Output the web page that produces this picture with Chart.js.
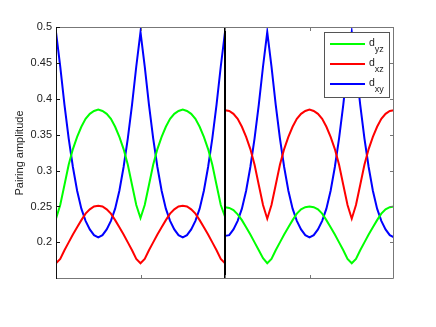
<!DOCTYPE html>
<html>
<head>
<meta charset="utf-8">
<script src="https://cdn.jsdelivr.net/npm/chart.js@4"></script>
<style>
  body { margin: 0; background: #fff; }
  #wrap { width: 436px; height: 327px; }
</style>
</head>
<body>
<div id="wrap"><canvas id="pairChart"></canvas></div>
<script>
// Data
const xLeft = [0, 0.05, 0.1, 0.15, 0.2, 0.25, 0.3, 0.35, 0.4, 0.45, 0.5, 0.55, 0.6, 0.65, 0.7, 0.75, 0.8, 0.85, 0.9, 0.95,
  1, 1.05, 1.1, 1.15, 1.2, 1.25, 1.3, 1.35, 1.4, 1.45, 1.5, 1.55, 1.6, 1.65, 1.7, 1.75, 1.8, 1.85, 1.9, 1.95, 2];
const xRight = [2, 2.05, 2.1, 2.15, 2.2, 2.25, 2.3, 2.35, 2.4, 2.45, 2.5, 2.55, 2.6, 2.65, 2.7, 2.75, 2.8, 2.85, 2.9, 2.95,
  3, 3.05, 3.1, 3.15, 3.2, 3.25, 3.3, 3.35, 3.4, 3.45, 3.5, 3.55, 3.6, 3.65, 3.7, 3.75, 3.8, 3.85, 3.9, 3.95, 4];

const dyzLeft = [0.233, 0.252, 0.280, 0.308, 0.330, 0.347, 0.361, 0.372, 0.379, 0.383, 0.385, 0.383, 0.379, 0.372, 0.361, 0.347, 0.330, 0.308, 0.280, 0.252,
  0.234, 0.252, 0.280, 0.308, 0.330, 0.347, 0.361, 0.372, 0.379, 0.383, 0.385, 0.383, 0.379, 0.372, 0.361, 0.347, 0.330, 0.308, 0.280, 0.252, 0.236];
const dyzRight = [0.249, 0.248, 0.245, 0.239, 0.231, 0.221, 0.211, 0.200, 0.189, 0.178, 0.171, 0.177, 0.189, 0.200, 0.211, 0.221, 0.231, 0.240, 0.246, 0.249,
  0.250, 0.249, 0.246, 0.240, 0.231, 0.221, 0.211, 0.200, 0.189, 0.177, 0.171, 0.177, 0.189, 0.200, 0.211, 0.221, 0.231, 0.240, 0.246, 0.249, 0.250];

const dxzLeft = [0.171, 0.177, 0.189, 0.200, 0.211, 0.221, 0.231, 0.240, 0.246, 0.250, 0.251, 0.250, 0.246, 0.240, 0.231, 0.221, 0.211, 0.200, 0.189, 0.177,
  0.171, 0.177, 0.189, 0.200, 0.211, 0.221, 0.231, 0.240, 0.246, 0.250, 0.251, 0.250, 0.246, 0.240, 0.231, 0.221, 0.211, 0.200, 0.189, 0.177, 0.171];
const dxzRight = [0.384, 0.383, 0.379, 0.372, 0.361, 0.347, 0.330, 0.308, 0.280, 0.252, 0.233, 0.252, 0.280, 0.308, 0.330, 0.347, 0.361, 0.372, 0.379, 0.383,
  0.385, 0.383, 0.379, 0.372, 0.361, 0.347, 0.330, 0.308, 0.280, 0.252, 0.233, 0.252, 0.280, 0.308, 0.330, 0.347, 0.361, 0.372, 0.379, 0.383, 0.384];

const dxyLeft = [0.493, 0.445, 0.392, 0.345, 0.305, 0.272, 0.247, 0.230, 0.218, 0.210, 0.207, 0.210, 0.218, 0.230, 0.247, 0.272, 0.305, 0.345, 0.392, 0.445,
  0.493, 0.445, 0.392, 0.345, 0.305, 0.272, 0.247, 0.230, 0.218, 0.210, 0.207, 0.210, 0.218, 0.230, 0.247, 0.272, 0.305, 0.345, 0.392, 0.445, 0.493];
const dxyRight = [0.209, 0.210, 0.218, 0.230, 0.247, 0.272, 0.305, 0.345, 0.392, 0.445, 0.493, 0.445, 0.392, 0.345, 0.305, 0.272, 0.247, 0.230, 0.218, 0.210,
  0.207, 0.210, 0.218, 0.230, 0.247, 0.272, 0.305, 0.345, 0.392, 0.445, 0.493, 0.445, 0.392, 0.345, 0.305, 0.272, 0.247, 0.230, 0.218, 0.210, 0.207];

const yTicks = [0.2, 0.25, 0.3, 0.35, 0.4, 0.45, 0.5];
const yTickLabels = ['0.2', '0.25', '0.3', '0.35', '0.4', '0.45', '0.5'];
const xTicks = [0, 1, 2, 3, 4];
const splitAt = 2;
const yLabel = 'Pairing amplitude';
const legendNames = [['d', 'yz'], ['d', 'xz'], ['d', 'xy']];

const FONT = '"Liberation Sans", Arial, sans-serif';
const colors = ['#00ff00', '#ff0000', '#0000ff'];

const xs = xLeft.concat(xRight);
const toPoints = (a, b) => a.concat(b).map((v, i) => ({ x: xs[i], y: v }));

const series = [toPoints(dyzLeft, dyzRight), toPoints(dxzLeft, dxzRight), toPoints(dxyLeft, dxyRight)];

// frame, inward ticks, divider
const frame = {
  id: 'frame',
  afterDatasetsDraw(chart) {
    const { ctx, chartArea: a, scales: { x, y } } = chart;
    ctx.save();
    const sx = Math.round(x.getPixelForValue(splitAt));
    ctx.strokeStyle = '#000';
    ctx.lineWidth = 2;
    ctx.beginPath();
    ctx.moveTo(sx, a.top);
    ctx.lineTo(sx, a.bottom);
    ctx.stroke();

    ctx.lineWidth = 1;
    ctx.strokeStyle = '#777';
    ctx.beginPath();
    ctx.moveTo(a.left, a.top + 0.5);
    ctx.lineTo(a.right - 0.5, a.top + 0.5);
    ctx.lineTo(a.right - 0.5, a.bottom - 0.5);
    ctx.lineTo(a.left, a.bottom - 0.5);
    y.ticks.forEach(t => {
      const py = Math.round(y.getPixelForValue(t.value)) + 0.5;
      ctx.moveTo(a.right, py);
      ctx.lineTo(a.right - 4, py);
    });
    x.ticks.forEach(t => {
      if (t.value <= x.min || t.value >= x.max) return;
      const px = Math.round(x.getPixelForValue(t.value)) + 0.5;
      ctx.moveTo(px, a.bottom);
      ctx.lineTo(px, a.bottom - 4);
      ctx.moveTo(px, a.top);
      ctx.lineTo(px, a.top + 4);
    });
    ctx.stroke();

    ctx.strokeStyle = '#111';
    ctx.beginPath();
    ctx.moveTo(a.left + 0.5, a.top);
    ctx.lineTo(a.left + 0.5, a.bottom);
    y.ticks.forEach(t => {
      const py = Math.round(y.getPixelForValue(t.value)) + 0.5;
      ctx.moveTo(a.left, py);
      ctx.lineTo(a.left + 4, py);
    });
    ctx.stroke();
    ctx.restore();
  },
  afterDraw(chart) {
    const { ctx, chartArea: a } = chart;
    ctx.save();
    // y axis title
    ctx.fillStyle = '#222';
    ctx.font = '11px ' + FONT;
    ctx.textAlign = 'center';
    ctx.textBaseline = 'middle';
    ctx.translate(20, (a.top + a.bottom) / 2);
    ctx.rotate(-Math.PI / 2);
    ctx.fillText(yLabel, 0, 0);
    ctx.restore();

    // legend box with subscripts
    ctx.save();
    const w = 65, h = 65;
    const bx = a.right - 5 - w, by = a.top + 5;
    ctx.fillStyle = '#fff';
    ctx.fillRect(bx, by, w, h);
    ctx.strokeStyle = '#555';
    ctx.lineWidth = 1;
    ctx.strokeRect(Math.round(bx) + 0.5, Math.round(by) + 0.5, w, h);
    legendNames.forEach((n, i) => {
      const ly = by + 12 + i * 20;
      ctx.strokeStyle = colors[i];
      ctx.lineWidth = 2;
      ctx.beginPath();
      ctx.moveTo(bx + 6, ly);
      ctx.lineTo(bx + 41, ly);
      ctx.stroke();
      ctx.fillStyle = '#222';
      ctx.textAlign = 'left';
      ctx.textBaseline = 'alphabetic';
      ctx.font = '10.5px ' + FONT;
      ctx.fillText(n[0], bx + 45, ly + 2);
      const dw = ctx.measureText(n[0]).width;
      ctx.font = '9px ' + FONT;
      ctx.fillText(n[1], bx + 45 + dw, ly + 8);
    });
    ctx.restore();
  }
};

new Chart(document.getElementById('pairChart'), {
  type: 'line',
  data: {
    datasets: series.map((d, i) => ({
      label: legendNames[i].join(''),
      data: d,
      borderColor: colors[i],
      borderWidth: 2,
      pointRadius: 0,
      tension: 0,
      fill: false,
    }))
  },
  options: {
    responsive: true,
    maintainAspectRatio: false,
    animation: false,
    layout: { padding: { top: 27, right: 42, left: 0, bottom: 0 } },
    scales: {
      x: {
        type: 'linear',
        min: 0, max: 4,
        grid: { display: false },
        border: { display: false },
        ticks: { display: false },
        afterBuildTicks: s => { s.ticks = xTicks.map(v => ({ value: v })); },
        afterFit: s => { s.height = 48; },
      },
      y: {
        min: 0.149, max: 0.5,
        grid: { display: false, drawTicks: false },
        border: { display: false },
        ticks: {
          color: '#222',
          padding: 4,
          font: { family: FONT, size: 11 },
          callback: (v, i) => yTickLabels[i],
        },
        afterBuildTicks: s => { s.ticks = yTicks.map(v => ({ value: v })); },
        afterFit: s => { s.width = 56; },
      }
    },
    plugins: { legend: { display: false }, tooltip: { enabled: false } },
  },
  plugins: [frame]
});
</script>
</body>
</html>
